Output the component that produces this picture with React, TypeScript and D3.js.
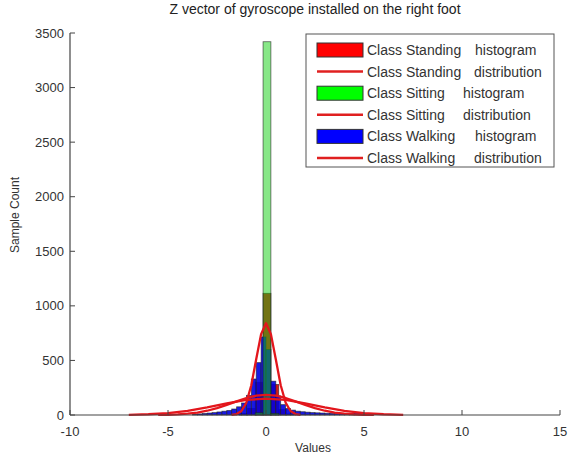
import React from "react";
import * as d3 from "d3";

const title = "Z vector of gyroscope installed on the right foot";
const xTicks = [-10, -5, 0, 5, 10, 15];
const yTicks = [0, 500, 1000, 1500, 2000, 2500, 3000, 3500];

// Standing histogram (bin left edges, width 0.4)
const standingEdges = [-1.35, -0.95, -0.55, -0.15, 0.25, 0.65, 1.05];
const standingCounts = [15, 60, 300, 1115, 280, 50, 10];
const standingWidth = 0.4;

// Sitting histogram
const sittingEdges = [-0.55, -0.15, 0.25];
const sittingCounts = [20, 3420, 15];
const sittingWidth = 0.4;

// Walking histogram (bin left edges, width 0.25)
const walkingEdges = [
  -3.75, -3.5, -3.25, -3, -2.75, -2.5, -2.25, -2, -1.75, -1.5, -1.25, -1, -0.75,
  -0.5, -0.25, 0, 0.25, 0.5, 0.75, 1, 1.25, 1.5, 1.75, 2, 2.25, 2.5, 2.75, 3,
  3.25, 3.5, 3.75, 4, 4.25, 4.5, 4.75, 5, 5.25,
];
const walkingCounts = [
  6, 10, 14, 18, 22, 28, 35, 42, 55, 75, 110, 180, 330, 480, 715, 600, 310, 175,
  95, 60, 45, 35, 30, 26, 22, 20, 18, 16, 15, 14, 14, 15, 16, 18, 20, 15, 8,
];
const walkingWidth = 0.25;

// Fitted distributions
const narrowX = [-1.75, -1.5, -1.25, -1, -0.75, -0.5, -0.25, 0, 0.25, 0.5, 0.75, 1, 1.25, 1.5, 1.75];
const narrowY = [2, 9, 37, 114, 273, 510, 741, 840, 741, 510, 273, 114, 37, 9, 2];
const broadAX = [-5.5, -5, -4.5, -4, -3.5, -3, -2.5, -2, -1.5, -1, -0.5, 0, 0.5, 1, 1.5, 2, 2.5, 3, 3.5, 4, 4.5, 5, 5.5];
const broadAY = [1, 2, 6, 12, 22, 39, 63, 93, 125, 156, 177, 185, 177, 156, 125, 93, 63, 39, 22, 12, 6, 2, 1];
const broadBX = [-7, -6, -5, -4, -3, -2, -1, 0, 1, 2, 3, 4, 5, 6, 7];
const broadBY = [2, 7, 17, 37, 69, 106, 138, 150, 138, 106, 69, 37, 17, 7, 2];

const legendLabels = [
  ["Class Standing", "histogram"],
  ["Class Standing", "distribution"],
  ["Class Sitting", "histogram"],
  ["Class Sitting", "distribution"],
  ["Class Walking", "histogram"],
  ["Class Walking", "distribution"],
];
const legendSecondX = [475, 474, 463, 463, 475, 474];
const legendKinds = ["rect", "line", "rect", "line", "rect", "line"];
const legendColors = ["#ff0000", "#e02020", "#00ff00", "#e02020", "#0000ff", "#e02020"];

const W = 569;
const H = 459;
const font = "'Liberation Sans', Arial, sans-serif";

export default function App() {
  const x = d3.scaleLinear().domain([-10, 15]).range([70, 560]);
  const y = d3.scaleLinear().domain([0, 3500]).range([415, 33]);
  const line = d3
    .line<[number, number]>()
    .x((d) => x(d[0]))
    .y((d) => y(d[1]));

  const bars = (edges: number[], counts: number[], w: number, fill: string, op: number, key: string) =>
    edges.map((e, i) => (
      <rect
        key={key + i}
        x={x(e)}
        y={y(counts[i])}
        width={x(e + w) - x(e)}
        height={y(0) - y(counts[i])}
        fill={fill}
        fillOpacity={op}
        stroke="#222"
        strokeOpacity={0.7}
        strokeWidth={0.8}
      />
    ));

  const curves = [
    [broadBX, broadBY],
    [broadAX, broadAY],
    [narrowX, narrowY],
  ];

  return (
    <svg
      width={W}
      height={H}
      style={{ position: "absolute", left: 0, top: 0, background: "#fff" }}
      fontFamily={font}
    >
      <rect x={0} y={0} width={W} height={H} fill="#fff" />
      <text x={315} y={14} textAnchor="middle" fontSize={14} fill="#222">
        {title}
      </text>

      {bars(standingEdges, standingCounts, standingWidth, "#d00000", 0.9, "s")}
      {bars(walkingEdges, walkingCounts, walkingWidth, "#0000e0", 0.9, "w")}
      {bars(sittingEdges, sittingCounts, sittingWidth, "#10d010", 0.5, "g")}

      {curves.map(([xs, ys], k) => (
        <path
          key={"c" + k}
          d={line(xs.map((v, i) => [v, ys[i]] as [number, number])) || ""}
          fill="none"
          stroke="#e3161c"
          strokeWidth={2.3}
          strokeLinejoin="round"
        />
      ))}

      {/* axes */}
      <line x1={70} x2={70} y1={y(3500)} y2={y(0)} stroke="#444" strokeWidth={1.2} />
      <line x1={70} x2={560} y1={y(0)} y2={y(0)} stroke="#444" strokeWidth={1.2} />
      {yTicks.map((t) => (
        <g key={"yt" + t}>
          <line x1={70} x2={75} y1={y(t)} y2={y(t)} stroke="#444" />
          <text x={64} y={y(t) + 4.5} textAnchor="end" fontSize={13} fill="#333">
            {t}
          </text>
        </g>
      ))}
      {xTicks.map((t) => (
        <g key={"xt" + t}>
          <line x1={x(t)} x2={x(t)} y1={y(0)} y2={y(0) - 5} stroke="#444" />
          <text x={x(t)} y={436} textAnchor="middle" fontSize={13} fill="#333">
            {t}
          </text>
        </g>
      ))}
      <text x={313} y={452} textAnchor="middle" fontSize={12} fill="#333">
        Values
      </text>
      <text
        transform="translate(19,215) rotate(-90)"
        textAnchor="middle"
        fontSize={12}
        fill="#333"
      >
        Sample Count
      </text>

      {/* legend */}
      <rect x={306} y={34} width={248} height={133} fill="#fff" stroke="#555" strokeWidth={1} />
      {legendLabels.map((lab, i) => {
        const cy = 50 + i * 21.6;
        return (
          <g key={"lg" + i}>
            {legendKinds[i] === "rect" ? (
              <rect x={317} y={cy - 7} width={46} height={14} fill={legendColors[i]} stroke="#333" strokeWidth={1} />
            ) : (
              <line x1={317} x2={363} y1={cy} y2={cy} stroke={legendColors[i]} strokeWidth={2.5} />
            )}
            <text x={367} y={cy + 5} fontSize={14} fill="#333">
              {lab[0]}
            </text>
            <text x={legendSecondX[i]} y={cy + 5} fontSize={14} fill="#333">
              {lab[1]}
            </text>
          </g>
        );
      })}
    </svg>
  );
}
